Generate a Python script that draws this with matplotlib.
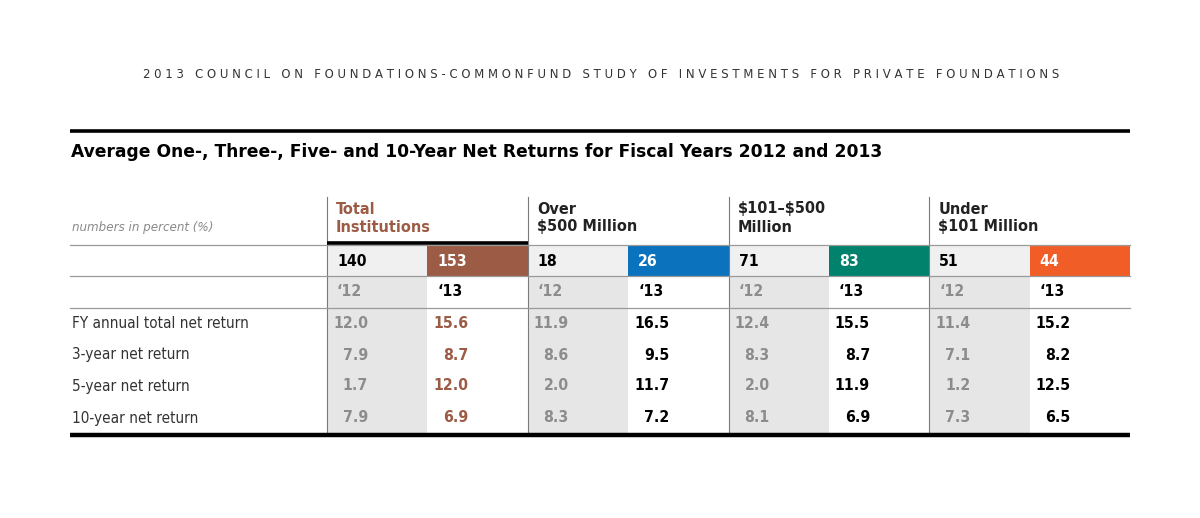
import os
import matplotlib.pyplot as plt
from matplotlib import font_manager as fm
from matplotlib.patches import Rectangle

# Datos de la tabla
grupos = ["Total\nInstitutions", "Over\n\\$500 Million", "\\$101–\\$500\nMillion", "Under\n\\$101 Million"]
colores = ["#9b5b45", "#0b72bd", "#00826c", "#f15d27"]
conteo_12 = [140, 18, 71, 51]
conteo_13 = [153, 26, 83, 44]
filas = ["FY annual total net return", "3-year net return", "5-year net return", "10-year net return"]
ret_12 = [
    [12.0, 7.9, 1.7, 7.9],
    [11.9, 8.6, 2.0, 8.3],
    [12.4, 8.3, 2.0, 8.1],
    [11.4, 7.1, 1.2, 7.3],
]
ret_13 = [
    [15.6, 8.7, 12.0, 6.9],
    [16.5, 9.5, 11.7, 7.2],
    [15.5, 8.7, 11.9, 6.9],
    [15.2, 8.2, 12.5, 6.5],
]
titulo = "2013 COUNCIL ON FOUNDATIONS-COMMONFUND STUDY OF INVESTMENTS FOR PRIVATE FOUNDATIONS"
subtitulo = "Average One-, Three-, Five- and 10-Year Net Returns for Fiscal Years 2012 and 2013"


def fuente_estrecha(negrita, cursiva=False):
    # Busca una fuente condensada instalada; si no hay, usa Roboto
    cands = []
    for f in fm.fontManager.ttflist:
        nombre = (f.name + " " + os.path.basename(f.fname)).lower().replace("-", "").replace(" ", "")
        if "narrow" not in nombre and "condensed" not in nombre:
            continue
        if "semicondensed" in nombre:
            anch = 1
        elif "extracondensed" in nombre or "ultracondensed" in nombre:
            anch = 2
        else:
            anch = 0
        cands.append((anch, f))
    if not cands:
        return fm.FontProperties(family="Roboto", weight="bold" if negrita else "normal",
                                 style="italic" if cursiva else "normal")
    objetivo = 700 if negrita else 400

    def puntaje(c):
        anch, f = c
        w = f.weight if isinstance(f.weight, int) else (700 if "bold" in str(f.weight) else 400)
        es_cursiva = f.style != "normal"
        return (anch, es_cursiva != cursiva, abs(w - objetivo))

    mejor = min(cands, key=puntaje)[1]
    return fm.FontProperties(fname=mejor.fname)


F_B = fuente_estrecha(True)
F_R = fuente_estrecha(False)
F_I = fuente_estrecha(False, True)
GRIS_TXT = "#8c8c8c"


def fp(base, size):
    p = base.copy()
    p.set_size(size)
    return p


fig = plt.figure(figsize=(12, 5.18), dpi=100)
ax = fig.add_axes([0, 0, 1, 1])
ax.set_xlim(0, 1200)
ax.set_ylim(518, 0)
ax.axis("off")

# Título con espaciado entre letras
espaciado = "   ".join(" ".join(p) for p in titulo.split(" "))
ax.text(601, 74, espaciado, ha="center", va="center", fontproperties=fp(F_R, 9.4),
        color="#333333")

x0, x1 = 70, 1130
ax.plot([x0, x1], [131, 131], color="black", lw=2.6, solid_capstyle="butt")
ax.text(x0 + 1, 152, subtitulo, ha="left", va="center", fontsize=12.3,
        fontweight="bold", family="DejaVu Sans", color="black")

ax.text(x0 + 2, 228, "numbers in percent (%)", ha="left", va="center",
        fontproperties=fp(F_I, 9.5), color="#8a8a8a")

col0 = 327
ancho = (x1 - col0) / 8
y_top_cuerpo = 245
y_cont = 261
y_anio = 292
y_filas = [324, 355, 386, 418]
y_fin = 435

for g, nombre in enumerate(grupos):
    xa = col0 + g * 2 * ancho
    xb = xa + ancho
    # fondos
    ax.add_patch(Rectangle((xa, y_top_cuerpo), ancho, 276 - y_top_cuerpo, color="#f0f0f0", lw=0, zorder=0))
    ax.add_patch(Rectangle((xb, y_top_cuerpo), ancho, 276 - y_top_cuerpo, color=colores[g], lw=0, zorder=0))
    ax.add_patch(Rectangle((xa, 276), ancho, y_fin - 276, color="#e6e6e7", lw=0, zorder=0))
    # encabezado
    ax.text(xa + 9, 218, nombre, ha="left", va="center", fontproperties=fp(F_B, 11.6),
            linespacing=1.25, color=colores[0] if g == 0 else "#222222")
    # conteos
    ax.text(xa + 10, y_cont, str(conteo_12[g]), ha="left", va="center",
            fontproperties=fp(F_B, 11.3), color="black")
    ax.text(xb + 10, y_cont, str(conteo_13[g]), ha="left", va="center",
            fontproperties=fp(F_B, 11.3), color="white")
    ax.text(xa + 10, y_anio, "\u201812", ha="left", va="center",
            fontproperties=fp(F_B, 11.3), color=GRIS_TXT)
    ax.text(xb + 10, y_anio, "\u201813", ha="left", va="center",
            fontproperties=fp(F_B, 11.3), color="black")
    for r, y in enumerate(y_filas):
        ax.text(xa + 41, y, f"{ret_12[g][r]:.1f}", ha="right", va="center",
                fontproperties=fp(F_B, 11.3), color=GRIS_TXT)
        ax.text(xb + 41, y, f"{ret_13[g][r]:.1f}", ha="right", va="center",
                fontproperties=fp(F_B, 11.3), color=colores[0] if g == 0 else "black")
    # línea vertical
    ax.plot([xa, xa], [197, y_fin], color="#7a7a7a", lw=0.8, zorder=2)

# líneas horizontales
for y in [245, 276, 308]:
    ax.plot([x0, x1], [y, y], color="#9a9a9a", lw=0.9, zorder=2)
ax.plot([col0, col0 + 2 * ancho], [242.5, 242.5], color="black", lw=2.6, solid_capstyle="butt", zorder=3)
ax.plot([x0, x1], [y_fin, y_fin], color="black", lw=3.2, solid_capstyle="butt", zorder=3)

for r, y in enumerate(y_filas):
    ax.text(x0 + 2, y, filas[r], ha="left", va="center", fontproperties=fp(F_R, 11),
            color="#333333")

fig.savefig("out.png", dpi=100, facecolor="white")
